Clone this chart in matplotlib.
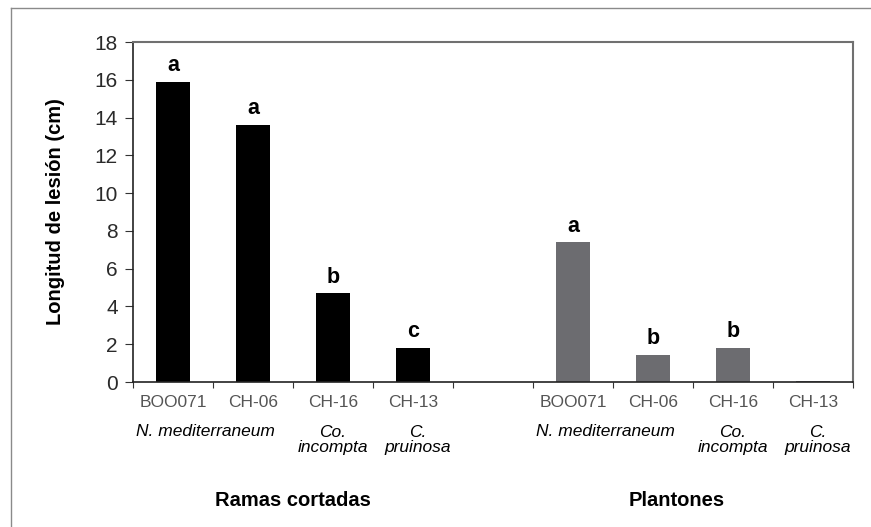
import numpy as np
import matplotlib.pyplot as plt
from matplotlib.lines import Line2D

plt.rcParams['font.family'] = ['Liberation Sans', 'DejaVu Sans']

# data
strains = ['BOO071', 'CH-06', 'CH-16', 'CH-13']
ramas = [15.9, 13.6, 4.7, 1.8]
plantones = [7.4, 1.45, 1.8, 0.05]
letras_ramas = ['a', 'a', 'b', 'c']
letras_plantones = ['a', 'b', 'b', '']
species = ['N. mediterraneum', 'Co.\nincompta', 'C.\npruinosa']
groups = ['Ramas cortadas', 'Plantones']

x_r = np.arange(4)
x_p = np.arange(5, 9)
width = 0.43

fig = plt.figure(figsize=(8.71, 5.27), dpi=100)
ax = fig.add_axes([133 / 871, 1 - 382 / 527, 720 / 871, 340 / 527])

b1 = ax.bar(x_r, ramas, width, color='black')
b2 = ax.bar(x_p, plantones, width, color='#6c6c70')

ax.set_xlim(-0.5, 8.5)
ax.set_ylim(0, 18)
ax.set_yticks(range(0, 19, 2))
ax.set_ylabel('Longitud de lesión (cm)', fontsize=14.5, fontweight='bold')
ax.yaxis.set_label_coords(-0.094, 0.5)

for s in ['left', 'bottom']:
    ax.spines[s].set_color('#222222')
    ax.spines[s].set_linewidth(1.2)
for s in ['top', 'right']:
    ax.spines[s].set_color('#707070')
    ax.spines[s].set_linewidth(1.5)

ax.set_xticks(np.arange(-0.5, 9, 1))
ax.set_xticklabels([])
ax.tick_params(axis='x', direction='out', length=4, color='#333333')
ax.tick_params(axis='y', direction='out', length=6, color='#333333',
               labelsize=15, labelcolor='#2a2a2a', pad=5)


def autolabel(rects, labels):
    for rect, lab in zip(rects, labels):
        if lab:
            ax.text(rect.get_x() + rect.get_width() / 2., rect.get_height() + 0.3,
                    lab, ha='center', va='bottom', fontsize=15.5, fontweight='bold')


autolabel(b1, letras_ramas)
autolabel(b2, letras_plantones)

# strain labels and species names below axis
trans = ax.get_xaxis_transform()
for xs in (x_r, x_p):
    for xi, name in zip(xs, strains):
        ax.text(xi, -0.06, name, transform=trans, ha='center', va='center',
                fontsize=12.5, color='#555555')
    ax.text(xs[0] + 0.4, -0.147, species[0], transform=trans, ha='center',
            va='center', fontsize=12.5, style='italic')
    ax.text(xs[2], -0.172, species[1], transform=trans, ha='center',
            va='center', fontsize=12.5, style='italic', linespacing=1.0)
    ax.text(xs[3] + 0.06, -0.172, species[2], transform=trans, ha='center',
            va='center', fontsize=12.5, style='italic', linespacing=1.0)

ax.text(1.5, -0.348, groups[0], transform=trans, ha='center', va='center',
        fontsize=14.5, fontweight='bold')
ax.text(6.3, -0.348, groups[1], transform=trans, ha='center', va='center',
        fontsize=14.5, fontweight='bold')

# outer frame (top and left edges)
fig.add_artist(Line2D([11 / 871, 1], [1 - 8 / 527, 1 - 8 / 527],
                      transform=fig.transFigure, color='#8a8a8a', lw=1))
fig.add_artist(Line2D([11 / 871, 11 / 871], [0, 1 - 8 / 527],
                      transform=fig.transFigure, color='#8a8a8a', lw=1))

plt.savefig('out.png', dpi=100)
